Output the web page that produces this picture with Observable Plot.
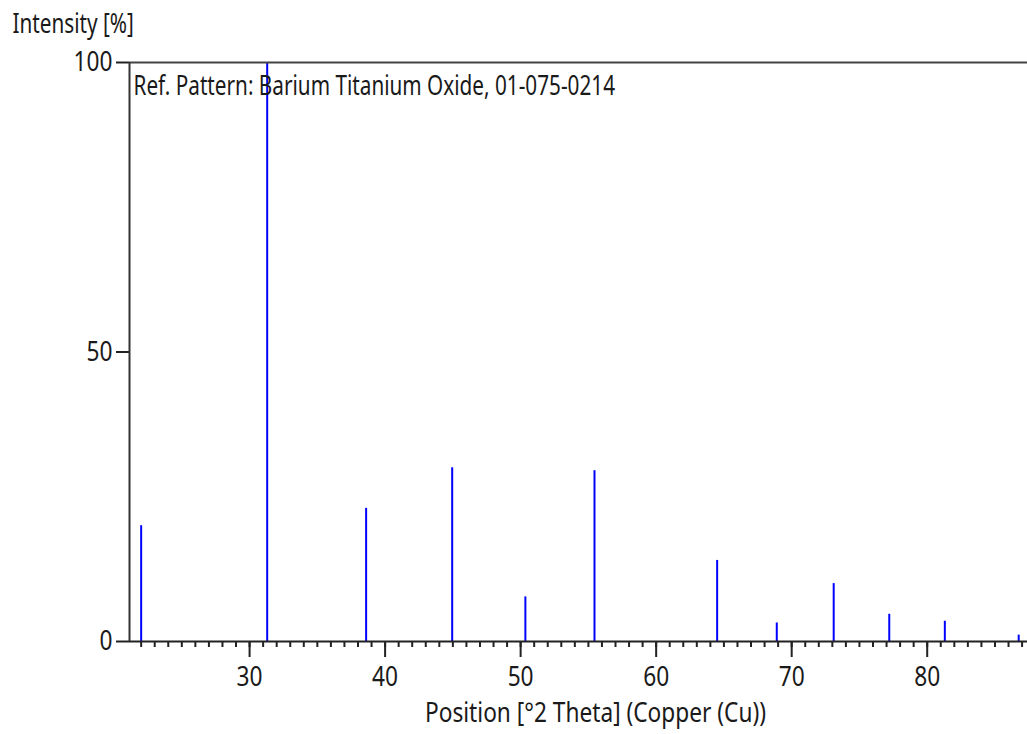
<!DOCTYPE html>
<html>
<head>
<meta charset="utf-8">
<script src="https://cdn.jsdelivr.net/npm/d3@7"></script>
<script src="https://cdn.jsdelivr.net/npm/@observablehq/plot@0.6"></script>
<style>
  html, body { margin: 0; padding: 0; background: #fff; }
  #chart svg { display: block; }
</style>
</head>
<body>
<div id="chart"></div>
<script>
// Peak positions (°2Theta) and relative intensities (%)
const positions   = [22.0, 31.3, 38.6, 44.95, 50.35, 55.45, 64.5, 68.9, 73.1, 77.2, 81.3, 86.75];
const intensities = [20, 100, 23, 30, 7.7, 29.5, 14, 3.2, 10, 4.7, 3.5, 1.1];
const xMajorTicks = [30, 40, 50, 60, 70, 80];
const xMinorTicks = d3.range(22, 88);
const yTicks = [0, 50, 100];
const yLabel = "Intensity [%]";
const xLabel = "Position [°2 Theta] (Copper (Cu))";
const refLabel = "Ref. Pattern: Barium Titanium Oxide, 01-075-0214";

const peaks = positions.map((p, i) => ({pos: p, int: intensities[i]}));
const font = "'Noto Sans', 'Open Sans', sans-serif";
const ink = "#1a1a1a";
const fs = 28;

const chart = Plot.plot({
  width: 1027,
  height: 734,
  marginLeft: 129,
  marginRight: 0,
  marginTop: 62,
  marginBottom: 93,
  style: {fontFamily: font, color: ink, background: "#fff"},
  x: {domain: [21.14, 87.4]},
  y: {domain: [0, 100]},
  marks: [
    Plot.ruleX(peaks, {x: "pos", y1: 0, y2: "int", stroke: "#0000ff", strokeWidth: 2}),
    Plot.axisX(xMinorTicks, {tickSize: 6, tickFormat: () => "", stroke: "#222", strokeWidth: 2, label: null}),
    Plot.axisX(xMajorTicks, {tickSize: 16, tickPadding: 9, fontSize: fs, stroke: "#222", strokeWidth: 2, label: null, fill: ink}),
    Plot.axisY(yTicks, {tickSize: 13, tickPadding: 4, fontSize: fs, stroke: "#222", strokeWidth: 2, label: null, fill: ink}),
    Plot.ruleY([0], {stroke: "#222", strokeWidth: 2}),
    Plot.ruleY([100], {stroke: "#444", strokeWidth: 2}),
    Plot.ruleX([21.14], {stroke: "#333", strokeWidth: 2}),
    Plot.text([yLabel], {frameAnchor: "top-left", dx: -117, dy: -49, lineAnchor: "top", fontSize: fs, textAnchor: "start", fill: ink, className: "tight"}),
    Plot.text([refLabel], {frameAnchor: "top-left", dx: 4, dy: 13, lineAnchor: "top", fontSize: fs, textAnchor: "start", fill: ink, className: "tight"}),
    Plot.text([xLabel], {frameAnchor: "bottom", dx: 17, dy: 61, lineAnchor: "top", fontSize: fs, textAnchor: "middle", fill: ink})
  ]
});
document.getElementById("chart").append(chart);

// Narrow the glyphs horizontally, like the condensed face in the original
d3.select(chart).selectAll("text").each(function () {
  const len = this.getComputedTextLength();
  if (len > 0) {
    const tight = this.closest(".tight") !== null;
    const squeeze = tight ? 0.74 : 0.81;
    this.setAttribute("textLength", (len * squeeze).toFixed(1));
    this.setAttribute("lengthAdjust", "spacingAndGlyphs");
  }
});
</script>
</body>
</html>
